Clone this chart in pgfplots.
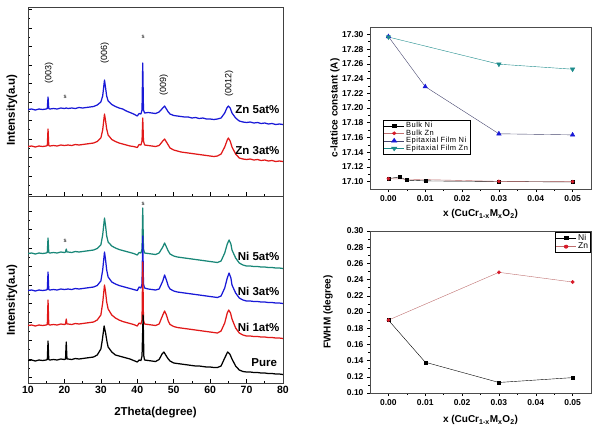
\documentclass[border=0pt]{standalone}
\usepackage{fontspec}
\setmainfont{Liberation Sans}
\usepackage{pgfplots}
\pgfplotsset{compat=1.18}
\definecolor{xblue}{RGB}{25,25,215}
\definecolor{xred}{RGB}{225,25,25}
\definecolor{xteal}{RGB}{25,135,120}
\definecolor{lteal}{RGB}{30,140,140}
\definecolor{mred}{RGB}{215,25,40}
\definecolor{epiline}{RGB}{70,70,110}
\definecolor{znline}{RGB}{190,110,110}
\begin{document}
\begin{tikzpicture}
\useasboundingbox (0,0) rectangle (598pt,-437pt);
\pgfplotsset{
 xrd/.style={scale only axis, width=255pt, xmin=10, xmax=80, y dir=reverse,
  tick align=inside, xtick pos=bottom, ytick pos=left,
  xtick={10,20,30,40,50,60,70,80}, minor x tick num=1, minor y tick num=1,
  yticklabels={}, axis line style={draw=black!75},
  major tick length=4pt, minor tick length=2pt, tick style={black,line width=0.6pt},
  every axis plot/.append style={line width=1.25pt, line join=round},
  /pgf/number format/assume math mode=true,
  tick label style={font=\fontsize{10.5}{12}\selectfont\bfseries}},
 rp/.style={scale only axis, width=221pt, height=162pt, xmin=-0.005, xmax=0.055,
  xtick={0,0.01,0.02,0.03,0.04,0.05}, minor x tick num=1, minor y tick num=1,
  tick align=outside, xtick pos=bottom, ytick pos=left,
  scaled x ticks=false, scaled y ticks=false,
  major tick length=3pt, minor tick length=1.7pt, tick style={black,line width=0.5pt},
  axis line style={draw=black!70},
  xticklabel style={/pgf/number format/.cd, fixed, fixed zerofill, precision=2},
  yticklabel style={/pgf/number format/.cd, fixed, fixed zerofill, precision=2},
  /pgf/number format/assume math mode=true,
  tick label style={font=\fontsize{8.5}{10}\selectfont\bfseries},
  xlabel={x (CuCr\textsubscript{1-x}M\textsubscript{x}O\textsubscript{2})},
  legend cell align=left}
}
% ---------------- top-left: Zn ----------------
\begin{axis}[xrd, height=189pt, at={(28pt,-196pt)}, anchor=south west,
  ymin=7, ymax=196, xticklabels={},
  ytick={9.5,28,46.5,65,83.5,102,120.5,139,157.5,176,194.5},
  ylabel={Intensity(a.u)},
  every axis y label/.style={at={(axis description cs:-0.063,0.455)},rotate=90,anchor=center,font=\fontsize{11.5}{13}\selectfont\bfseries}]
\addplot[xblue] coordinates {(10,109.5)(11,109)(12,110)(13,109)(14,109.5)(15,109)(15.3,108.5)(15.5,97)(15.7,108.5)(16,109)(17,108.5)(18,109)(19,108)(20,108.5)(20.5,108)(21,108.5)(22,108)(23,108.5)(24,107.5)(25,108)(26,107.5)(27,107)(28,106.5)(29,105)(30,102)(30.5,96)(31,80)(31.3,88)(31.6,96)(32,101)(33,104.5)(34,106.5)(35,108)(36,109)(37,111)(38,112.5)(39,114)(40,116)(40.5,113.5)(41,114)(41.3,110)(41.5,63)(41.7,110)(42,113)(43,112.5)(44,113)(45,113.5)(46,112)(47,108)(47.5,106)(48,109)(48.5,112)(49,114)(50,115.5)(51,116)(52,116.5)(53,117)(54,117)(55,118)(56,117.5)(57,118.5)(58,118)(59,119)(60,119)(61,119.5)(62,119)(63,118)(64,113)(64.6,108)(65,106)(65.5,108)(66,113)(67,118)(68,121)(69,122)(70,122.5)(71,122)(72,123)(73,122.5)(74,123.5)(75,123)(76,124)(77,123.5)(78,124.5)(79,124)(80,124.5)};
\addplot[xred] coordinates {(10,146.5)(11,146)(12,147)(13,146)(14,146.5)(15,146)(15.3,145.5)(15.5,129)(15.7,145.5)(16,146)(17,145.5)(18,146)(19,145)(20,145.5)(21,145)(22,145.5)(23,144.5)(24,145)(25,144.5)(26,144)(27,143.5)(28,143)(29,141.5)(30,138)(30.5,130)(31,114)(31.3,121)(31.6,129)(32,135)(33,139.5)(34,141.5)(35,143)(36,144)(37,145)(38,146)(39,146.5)(40,147.5)(40.5,144.5)(41,145)(41.3,141)(41.5,118)(41.7,141)(42,145)(43,145.5)(44,146)(45,146.5)(46,145.5)(47,141)(47.5,139)(48,142)(48.5,145)(49,148)(50,150)(51,151)(52,152)(53,152.5)(54,153)(55,153.5)(56,154)(57,154.5)(58,155)(59,155.5)(60,156)(61,156.5)(62,156)(63,154)(64,147)(64.7,140)(65,138)(65.5,141)(66,147)(67,154)(68,158)(69,159)(70,159.5)(71,159)(72,160)(73,159.5)(74,160.5)(75,160)(76,161)(77,160.5)(78,161.5)(79,161)(80,161.5)};
\node[rotate=90,font=\fontsize{9}{10}\selectfont] at (axis cs:15.8,73) {(003)};
\node[rotate=90,font=\fontsize{9}{10}\selectfont] at (axis cs:31.1,53) {(006)};
\node[rotate=90,font=\fontsize{9}{10}\selectfont] at (axis cs:47.3,85) {(009)};
\node[rotate=90,font=\fontsize{9}{10}\selectfont] at (axis cs:65.2,83) {(0012)};
\node[font=\fontsize{6}{7}\selectfont] at (axis cs:41.6,37) {s};
\node[font=\fontsize{6}{7}\selectfont] at (axis cs:20.2,97) {s};
\node[anchor=east,font=\fontsize{11.5}{13}\selectfont\bfseries] at (axis cs:80,110) {Zn 5at\%};
\node[anchor=east,font=\fontsize{11.5}{13}\selectfont\bfseries] at (axis cs:80,151) {Zn 3at\%};
\end{axis}
% ---------------- bottom-left: Ni ----------------
\begin{axis}[xrd, height=187pt, at={(28pt,-383pt)}, anchor=south west,
  ymin=196, ymax=383,
  ytick={211,229.5,248,266.5,285,303.5,322,340.5,359,377.5},
  xlabel={2Theta(degree)}, ylabel={Intensity(a.u)},
  every axis x label/.style={at={(axis description cs:0.5,-0.16)},anchor=center,font=\fontsize{11.5}{13}\selectfont\bfseries},
  every axis y label/.style={at={(axis description cs:-0.063,0.444)},rotate=90,anchor=center,font=\fontsize{11.5}{13}\selectfont\bfseries}]
\addplot[xteal] coordinates {(10,253.5)(11,253)(12,254)(13,253)(14,253.5)(15,253)(15.3,252.5)(15.5,238)(15.7,252.5)(16,253)(17,252.5)(18,253)(19,252)(20,252.5)(20.3,252)(20.5,249)(20.7,252)(21,252)(22,252.5)(23,251.5)(24,252)(25,251.5)(26,251)(27,250.5)(28,250)(29,248.5)(30,245)(30.5,235)(31,218)(31.3,226)(31.6,236)(32,242)(33,246)(34,248)(35,249.5)(36,250.5)(37,251.5)(38,252.5)(39,253.5)(40,255)(40.5,252.5)(41,253)(41.3,249)(41.5,208)(41.7,249)(42,253)(43,253.5)(44,254)(45,254.5)(46,253)(47,247)(47.5,243)(48,247)(48.5,251)(49,254)(50,256)(51,257)(52,257.5)(53,258)(54,258.5)(55,259)(56,259.5)(57,260)(58,260.5)(59,261)(60,261.5)(61,262)(62,262.5)(63,261)(64,253)(64.7,244)(65.2,240)(65.7,244)(66,250)(67,258)(68,263)(69,265)(70,266)(71,266)(72,266.5)(73,266.5)(74,267)(75,267)(76,267.5)(77,267.5)(78,268)(79,268)(80,268.5)};
\addplot[xblue] coordinates {(10,290.5)(11,290)(12,291)(13,290)(14,290.5)(15,290)(15.3,289.5)(15.5,272)(15.7,289.5)(16,290)(17,289.5)(18,290)(19,289)(20,289.5)(21,289)(22,289.5)(23,288.5)(24,289)(25,288.5)(26,288)(27,287.5)(28,287)(29,285.5)(30,281)(30.5,270)(31,252)(31.3,260)(31.6,270)(32,277)(33,282)(34,284)(35,285.5)(36,286.5)(37,287.5)(38,288.5)(39,289.5)(40,290.5)(40.5,287)(41,288)(41.3,284)(41.5,236)(41.7,284)(42,288)(43,289)(44,289.5)(45,290)(46,289)(47,281)(47.5,275)(48,280)(48.5,286)(49,289)(50,291)(51,292)(52,292.5)(53,293)(54,293.5)(55,294)(56,294.5)(57,295)(58,295.5)(59,296)(60,296.5)(61,297)(62,297.5)(63,296)(64,288)(64.7,278)(65.2,273)(65.7,278)(66,285)(67,293)(68,298)(69,300)(70,301)(71,301)(72,301.5)(73,301.5)(74,302)(75,302)(76,302.5)(77,302.5)(78,303)(79,303)(80,303.5)};
\addplot[xred] coordinates {(10,325.5)(11,325)(12,326)(13,325)(14,325.5)(15,325)(15.3,324.5)(15.5,300)(15.7,324.5)(16,325)(17,324.5)(18,325)(19,324)(20,324.5)(20.3,324)(20.5,319)(20.7,324)(21,324)(22,324.5)(23,323.5)(24,324)(25,323.5)(26,323)(27,322.5)(28,322)(29,320)(30,315)(30.5,303)(31,285)(31.3,292)(31.6,302)(32,309)(33,315)(34,318)(35,320)(36,321.5)(37,322.5)(38,323.5)(39,324.5)(40,326)(40.5,323)(41,324)(41.3,320)(41.5,262)(41.7,320)(42,324)(43,324.5)(44,325)(45,325.5)(46,324)(47,315)(47.5,311)(48,315)(48.5,321)(49,324.5)(50,326.5)(51,327.5)(52,328)(53,328.5)(54,329)(55,329.5)(56,330)(57,330.5)(58,331)(59,331.5)(60,332)(61,332.5)(62,333)(63,331)(64,323)(64.7,313)(65.1,310)(65.6,313)(66,319)(67,328)(68,333)(69,335)(70,336)(71,336)(72,336.5)(73,336.5)(74,337)(75,337)(76,337.5)(77,337.5)(78,338)(79,338)(80,338.5)};
\addplot[black] coordinates {(10,360.5)(11,360)(12,361)(13,360)(14,360.5)(15,360)(15.3,359.5)(15.5,341)(15.7,359.5)(16,360)(17,359.5)(18,360)(19,359)(20,359.5)(20.3,359)(20.5,342)(20.7,359)(21,359)(22,359.5)(23,358.5)(24,359)(25,358.5)(26,358)(27,357.5)(28,357)(29,355)(30,349)(30.4,340)(30.9,326)(31.3,333)(31.7,342)(32,347)(33,352)(34,355)(35,356)(36,357)(37,358)(38,359)(39,360.5)(40,362)(40.5,360)(41,360.5)(41.3,356)(41.6,315)(41.8,356)(42,360)(43,360.5)(44,361)(45,361.5)(46,359.5)(46.8,354)(47.3,352)(47.8,355)(48.5,359)(49,361)(50,363)(51,363.5)(52,364)(53,364.5)(54,365)(55,365.5)(56,366)(57,366)(58,366.5)(59,367)(60,367)(61,367.5)(62,367.5)(63,366)(64,358)(64.8,352)(65.4,354)(66,359)(67,366)(68,370)(69,371.5)(70,372)(71,372)(72,372.5)(73,372.5)(74,373)(75,373)(76,373.5)(77,373.5)(78,374)(79,374)(80,374.5)};
\node[font=\fontsize{6}{7}\selectfont] at (axis cs:41.6,204) {s};
\node[font=\fontsize{6}{7}\selectfont] at (axis cs:20.2,241) {s};
\node[anchor=east,font=\fontsize{11.5}{13}\selectfont\bfseries] at (axis cs:80,256) {Ni 5at\%};
\node[anchor=east,font=\fontsize{11.5}{13}\selectfont\bfseries] at (axis cs:80,291) {Ni 3at\%};
\node[anchor=east,font=\fontsize{11.5}{13}\selectfont\bfseries] at (axis cs:80,327) {Ni 1at\%};
\node[anchor=east,font=\fontsize{11.5}{13}\selectfont\bfseries] at (axis cs:79.3,363) {Pure};
\end{axis}
% ---------------- top-right: c-lattice ----------------
\begin{axis}[rp, at={(370pt,-189pt)}, anchor=south west,
  ymin=17.09, ymax=17.31,
  ytick={17.10,17.12,17.14,17.16,17.18,17.20,17.22,17.24,17.26,17.28,17.30},
  ylabel={c-lattice constant (A)},
  every axis y label/.style={at={(axis description cs:-0.158,0.5)},rotate=90,anchor=center,font=\fontsize{10}{12}\selectfont\bfseries},
  every axis x label/.style={at={(axis description cs:0.5,-0.154)},anchor=center,font=\fontsize{10}{12}\selectfont\bfseries},
  legend image post style={xscale=1.2},
  legend style={at={(0.059,0.426)}, anchor=north west, font=\fontsize{7.5}{8.5}\selectfont\addfontfeatures{LetterSpace=6},
   draw=black, inner sep=0.5pt, row sep=-2.6pt, nodes={inner sep=1.6pt}}]
\addplot[black, mark=square*, mark size=1.5pt] coordinates {(0,17.104)(0.003,17.1064)(0.005,17.102)(0.01,17.101)(0.03,17.1002)(0.05,17.0995)};
\addlegendentry{Bulk Ni}
\addplot[znline, mark=*, mark size=1.6pt, mark options={draw=mred,fill=mred}] coordinates {(0,17.104)(0.03,17.1004)(0.05,17.1)};
\addlegendentry{Bulk Zn}
\addplot[epiline, mark=triangle*, mark size=2.6pt, mark options={draw=xblue,fill=xblue}] coordinates {(0,17.297)(0.01,17.229)(0.03,17.165)(0.05,17.1635)};
\addlegendentry{Epitaxial Film Ni}
\addplot[lteal, mark=triangle*, mark size=2.6pt, mark options={draw=lteal,fill=lteal,rotate=180}] coordinates {(0,17.2964)(0.03,17.2595)(0.05,17.2527)};
\addlegendentry{Epitaxial Film Zn}
\end{axis}
% ---------------- bottom-right: FWHM ----------------
\begin{axis}[rp, at={(370pt,-393pt)}, anchor=south west,
  ymin=0.10, ymax=0.30,
  ytick={0.10,0.12,0.14,0.16,0.18,0.20,0.22,0.24,0.26,0.28,0.30},
  ylabel={FWHM (degree)},
  every axis y label/.style={at={(axis description cs:-0.19,0.5)},rotate=90,anchor=center,font=\fontsize{10}{12}\selectfont\bfseries},
  every axis x label/.style={at={(axis description cs:0.5,-0.167)},anchor=center,font=\fontsize{10}{12}\selectfont\bfseries},
  legend image post style={xscale=1.2},
  legend style={at={(0.997,0.995)}, anchor=north east, font=\fontsize{8.5}{9.5}\selectfont,
   draw=black, inner sep=0.5pt, row sep=-2pt, nodes={inner sep=1.6pt}}]
\addplot[black, mark=square*, mark size=1.5pt] coordinates {(0,0.190)(0.01,0.138)(0.03,0.113)(0.05,0.119)};
\addlegendentry{Ni}
\addplot[znline, mark=*, mark size=1.7pt, mark options={draw=mred,fill=mred}] coordinates {(0,0.190)(0.03,0.249)(0.05,0.237)};
\addlegendentry{Zn}
\end{axis}
\end{tikzpicture}
\end{document}
